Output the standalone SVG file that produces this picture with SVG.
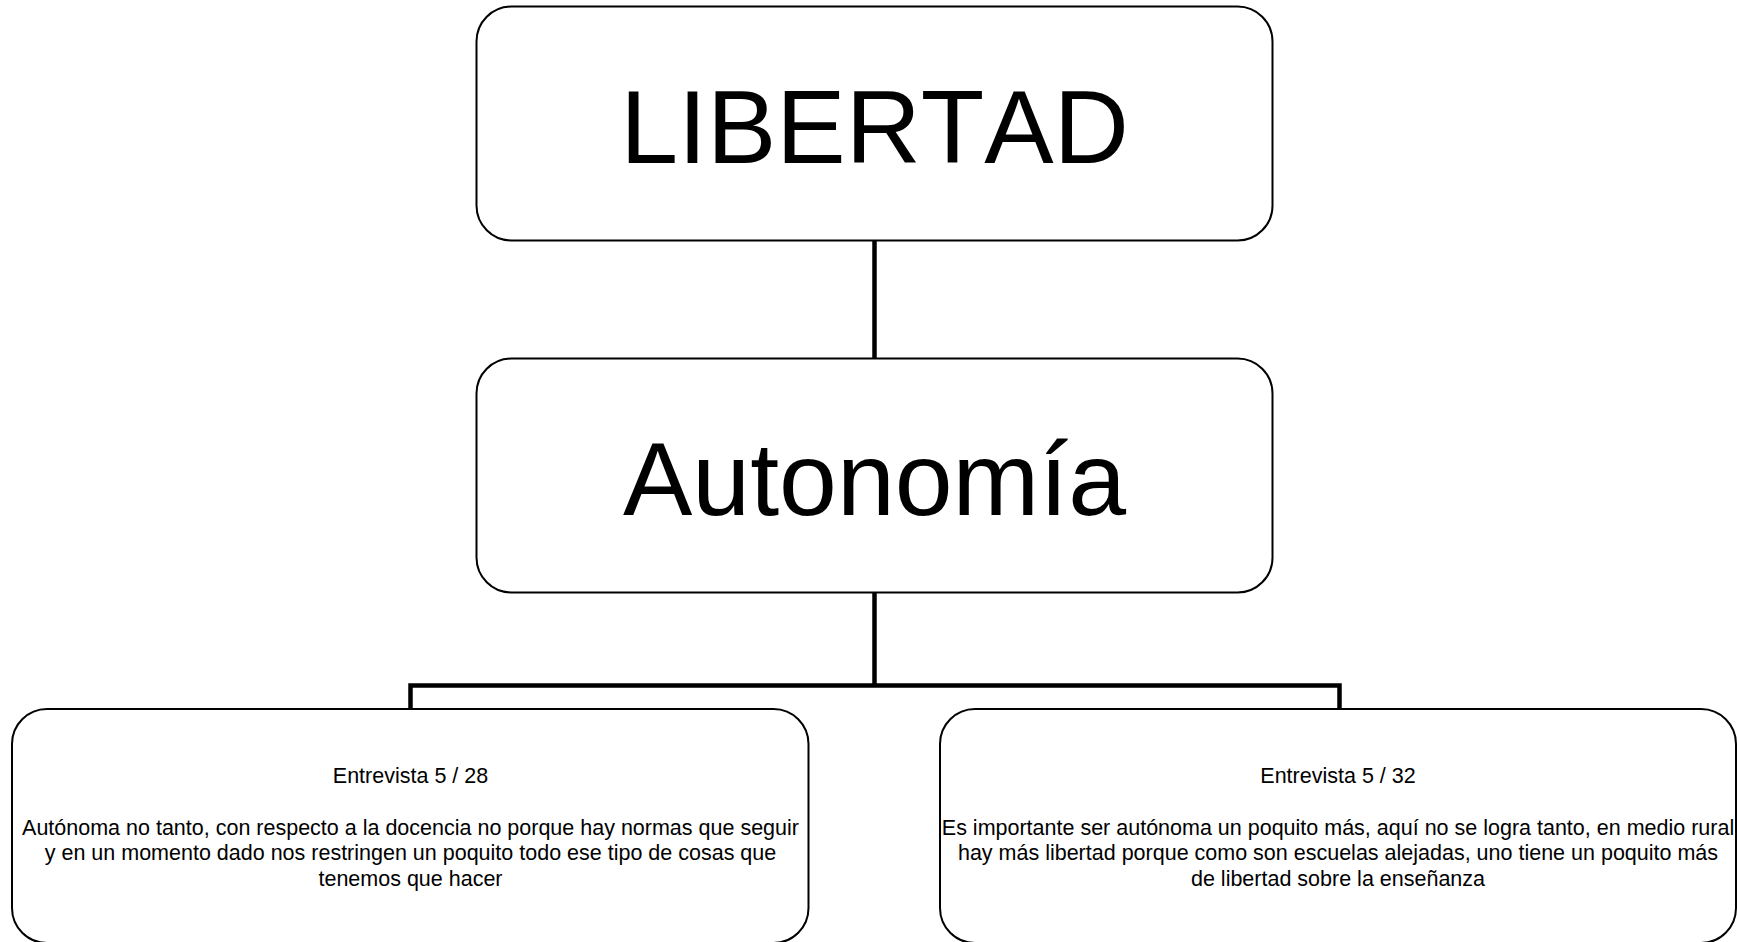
<svg xmlns="http://www.w3.org/2000/svg" width="1737" height="942" viewBox="0 0 1737 942">
<style>
  .box { fill: #ffffff; stroke: #000000; stroke-width: 2; }
  .big { font-family: "Liberation Sans", Arial, sans-serif; font-size: 104px; fill: #000000; text-anchor: middle; font-kerning: none; }
  .small { font-family: "Liberation Sans", Arial, sans-serif; font-size: 21.5px; fill: #000000; text-anchor: middle; }
  .conn { fill: none; stroke: #000000; stroke-width: 4.5; stroke-linejoin: miter; stroke-linecap: butt; }
</style>
<rect x="0" y="0" width="1737" height="942" fill="#ffffff"/>
<g id="connectors">
  <path class="conn" d="M874.5 240.5 V358.5"/>
  <path class="conn" d="M874.5 592.5 V685.5"/>
  <path class="conn" d="M410.5 709 V685.5 H1339.5 V709"/>
</g>
<g id="node-libertad">
  <rect class="box" x="476.5" y="6.5" width="796" height="234" rx="35" ry="35"/>
  <text class="big" x="874.5" y="162.5">LIBERTAD</text>
</g>
<g id="node-autonomia">
  <rect class="box" x="476.5" y="358.5" width="796" height="234" rx="35" ry="35"/>
  <text class="big" x="874.5" y="514.5">Autonomía</text>
</g>
<g id="node-entrevista-28">
  <rect class="box" x="12" y="709" width="796.5" height="234" rx="35" ry="35"/>
  <text class="small" x="410.5" y="783">Entrevista 5 / 28</text>
  <text class="small" x="410.5" y="834.5">Autónoma no tanto, con respecto a la docencia no porque hay normas que seguir</text>
  <text class="small" x="410.5" y="860">y en un momento dado nos restringen un poquito todo ese tipo de cosas que</text>
  <text class="small" x="410.5" y="885.5">tenemos que hacer</text>
</g>
<g id="node-entrevista-32">
  <rect class="box" x="940" y="709" width="796" height="234" rx="35" ry="35"/>
  <text class="small" x="1338" y="783">Entrevista 5 / 32</text>
  <text class="small" x="1338" y="834.5">Es importante ser autónoma un poquito más, aquí no se logra tanto, en medio rural</text>
  <text class="small" x="1338" y="860">hay más libertad porque como son escuelas alejadas, uno tiene un poquito más</text>
  <text class="small" x="1338" y="885.5">de libertad sobre la enseñanza</text>
</g>
</svg>
